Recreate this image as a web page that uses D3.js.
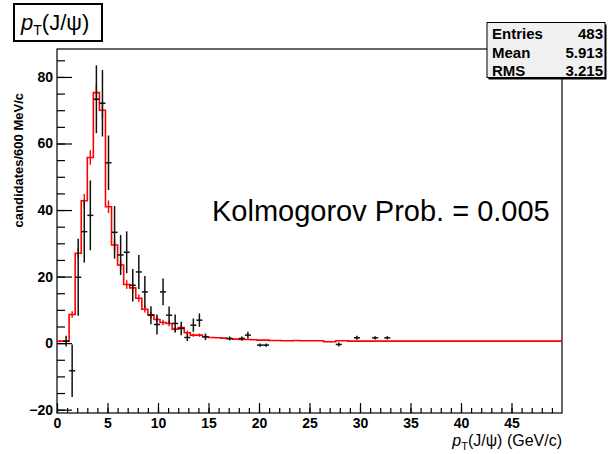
<!DOCTYPE html>
<html>
<head>
<meta charset="utf-8">
<script src="https://cdn.jsdelivr.net/npm/d3@7"></script>
<style>
  body { margin: 0; background: #fff; }
  svg { display: block; font-family: "Liberation Sans", Arial, sans-serif; }
  .tick text { font-weight: bold; font-size: 14px; fill: #000; }
</style>
</head>
<body>
<svg id="chart" width="608" height="454"></svg>
<script>
// MC histogram (red), 600 MeV bins starting at 0
var binWidth = 0.6;
var mcValues = [
  0.6, 0.6, 8.6, 27, 42.8, 55.8, 75.3, 70, 41, 29.5,
  23.5, 17.6, 16.6, 13.5, 10.2, 8.5, 7.1, 6.2, 5.9, 4.2,
  4.7, 3.1, 2.4, 2.4, 1.9, 1.7, 1.6, 1.5, 1.3, 1.2,
  1.1, 1.1, 1.0, 0.9, 0.9, 0.8, 0.8, 0.7, 0.7, 0.8,
  0.7, 0.7, 0.7, 0.7, 0.4, 0.4, 0.7, 0.7, 0.6, 0.6,
  0.6, 0.6, 0.6, 0.6, 0.6, 0.6, 0.6, 0.6, 0.6, 0.6,
  0.6, 0.6, 0.6, 0.6, 0.6, 0.6, 0.6, 0.6, 0.6, 0.6,
  0.6, 0.6, 0.6, 0.6, 0.6, 0.6, 0.6, 0.6, 0.6, 0.6,
  0.6, 0.6, 0.6, 0.6
];
var mcErrors = [0.3, 0.3, 1.0, 1.6, 2.0, 2.2, 2.6, 2.5, 1.9, 1.6,
  1.5, 1.3, 1.2, 1.1, 1.0, 0.9, 0.8, 0.8, 0.8, 0.7, 0.7, 0.6, 0.5, 0.5, 0.5];

// data points (black)
var dataBins = [1, 2, 3, 4, 5, 6, 7, 8, 9, 10, 11, 12, 13, 14, 15, 16, 17, 18, 19, 20,
  21, 22, 23, 24, 28, 30, 31, 33, 34, 46, 49, 52, 54];
var dataValues = [0.6, -8.3, 19.8, 33.5, 38.4, 73.3, 72.1, 54.2, 33.3, 26.5, 27.3, 17.4, 21.4, 15.4,
  8.4, 5.6, 15.4, 8.4, 5.9, 4.4, 1.7, 5.4, 6.9, 1.9, 1.4, 1.4, 2.4, -0.6, -0.6, -0.4, 1.6, 1.6, 1.6];
var dataErrors = [1.6, 7.9, 11.6, 9.3, 10.5, 10.2, 10.0, 8.2, 7.9, 6.0, 6.3, 4.9, 5.1, 4.8,
  2.7, 3.0, 4.0, 2.6, 2.7, 2.0, 1.1, 2.0, 2.0, 1.0, 0.6, 0.6, 1.0, 0.5, 0.5, 0.6, 0.6, 0.5, 0.5];

var statsLabels = ["Entries", "Mean", "RMS"];
var statsValues = ["483", "5.913", "3.215"];

var xDomain = [0, 50];
var yDomain = [-21, 88.4];
var xMajor = [0, 5, 10, 15, 20, 25, 30, 35, 40, 45];
var yMajor = [-20, 0, 20, 40, 60, 80];

var padL = 57, padR = 562, padT = 49, padB = 413;

var svg = d3.select("#chart");

var x = d3.scaleLinear().domain(xDomain).range([padL, padR]);
var y = d3.scaleLinear().domain(yDomain).range([padB, padT]);

svg.append("clipPath").attr("id", "clip")
  .append("rect").attr("x", padL).attr("y", padT)
  .attr("width", padR - padL).attr("height", padB - padT);

// frame
svg.append("rect")
  .attr("x", padL).attr("y", padT)
  .attr("width", padR - padL).attr("height", padB - padT)
  .style("fill", "white").style("stroke", "black").style("stroke-width", 1.2);

var plot = svg.append("g").attr("clip-path", "url(#clip)");

// red MC histogram as a step line
var steps = [];
mcValues.forEach(function(v, i) {
  steps.push([i * binWidth, v]);
  steps.push([(i + 1) * binWidth, v]);
});
var line = d3.line().x(function(d) { return x(d[0]); }).y(function(d) { return y(d[1]); });
plot.append("path")
  .attr("d", line(steps))
  .style("fill", "none").style("stroke", "#ff0000").style("stroke-width", 1.6);

plot.selectAll("line.mcerr")
  .data(mcErrors)
  .enter()
  .append("line")
  .attr("class", "mcerr")
  .attr("x1", function(d, i) { return x((i + 0.5) * binWidth); })
  .attr("x2", function(d, i) { return x((i + 0.5) * binWidth); })
  .attr("y1", function(d, i) { return y(mcValues[i] - d); })
  .attr("y2", function(d, i) { return y(mcValues[i] + d); })
  .style("stroke", "#ff0000").style("stroke-width", 1.4);

// black data points with error bars
var pts = dataBins.map(function(b, i) {
  return { c: (b + 0.5) * binWidth, lo: b * binWidth, hi: (b + 1) * binWidth, v: dataValues[i], e: dataErrors[i] };
});
var g = plot.selectAll("g.pt").data(pts).enter().append("g").attr("class", "pt");
g.append("line")
  .attr("x1", function(d) { return x(d.c); })
  .attr("x2", function(d) { return x(d.c); })
  .attr("y1", function(d) { return y(d.v - d.e); })
  .attr("y2", function(d) { return y(d.v + d.e); })
  .style("stroke", "#111").style("stroke-width", 1.5);
g.append("line")
  .attr("x1", function(d) { return x(d.lo); })
  .attr("x2", function(d) { return x(d.hi); })
  .attr("y1", function(d) { return y(d.v); })
  .attr("y2", function(d) { return y(d.v); })
  .style("stroke", "#111").style("stroke-width", 1.5);

// axes, ticks pointing inward
var xMinor = d3.range(0, 50, 1);
var yMinor = d3.range(-20, 88, 5);

svg.append("g").attr("transform", "translate(0," + padB + ")")
  .call(d3.axisBottom(x).tickValues(xMinor).tickSize(-5).tickFormat(""))
  .call(function(s) { s.select(".domain").remove(); });
svg.append("g").attr("transform", "translate(0," + padB + ")")
  .call(d3.axisBottom(x).tickValues(xMajor).tickSize(-10).tickPadding(5).tickFormat(d3.format("d")))
  .call(function(s) { s.select(".domain").remove(); });

svg.append("g").attr("transform", "translate(" + padL + ",0)")
  .call(d3.axisLeft(y).tickValues(yMinor).tickSize(-8).tickFormat(""))
  .call(function(s) { s.select(".domain").remove(); });
svg.append("g").attr("transform", "translate(" + padL + ",0)")
  .call(d3.axisLeft(y).tickValues(yMajor).tickSize(-15).tickPadding(4).tickFormat(d3.format("d")))
  .call(function(s) { s.select(".domain").remove(); });

svg.selectAll(".tick line").style("stroke", "#000").style("stroke-width", 1.2);

// axis titles
svg.append("text")
  .attr("transform", "translate(23,93) rotate(-90)")
  .attr("text-anchor", "end")
  .style("font-size", "13px").style("font-weight", "bold")
  .text("candidates/600 MeV/c");

var xt = svg.append("text")
  .attr("x", padR).attr("y", 446)
  .attr("text-anchor", "end")
  .style("font-size", "16px");
xt.append("tspan").style("font-style", "italic").text("p");
xt.append("tspan").attr("dy", 4).style("font-size", "11px").text("T");
xt.append("tspan").attr("dy", -4).text("(J/\u03c8) (GeV/c)");

// title box
svg.append("rect")
  .attr("x", 14).attr("y", 4).attr("width", 88).attr("height", 37)
  .style("fill", "white").style("stroke", "black").style("stroke-width", 2);
var tt = svg.append("text").attr("x", 21).attr("y", 30).style("font-size", "22px");
tt.append("tspan").style("font-style", "italic").text("p");
tt.append("tspan").attr("dy", 5).style("font-size", "14px").text("T");
tt.append("tspan").attr("dy", -5).text("(J/\u03c8)");

// stats box
svg.append("rect")
  .attr("x", 488.5).attr("y", 24.5).attr("width", 118).attr("height", 55)
  .style("fill", "black");
svg.append("rect")
  .attr("x", 487).attr("y", 22.5).attr("width", 118).attr("height", 55)
  .style("fill", "#f0f0f0").style("stroke", "black").style("stroke-width", 1);
statsLabels.forEach(function(lab, i) {
  svg.append("text").attr("x", 492).attr("y", 39 + i * 18.5)
    .style("font-size", "15px").style("font-weight", "bold").text(lab);
  svg.append("text").attr("x", 603).attr("y", 39 + i * 18.5)
    .attr("text-anchor", "end")
    .style("font-size", "15px").style("font-weight", "bold").text(statsValues[i]);
});

// KS probability
svg.append("text")
  .attr("x", 212).attr("y", 221)
  .style("font-size", "29px")
  .text("Kolmogorov Prob. = 0.005");
</script>
</body>
</html>
